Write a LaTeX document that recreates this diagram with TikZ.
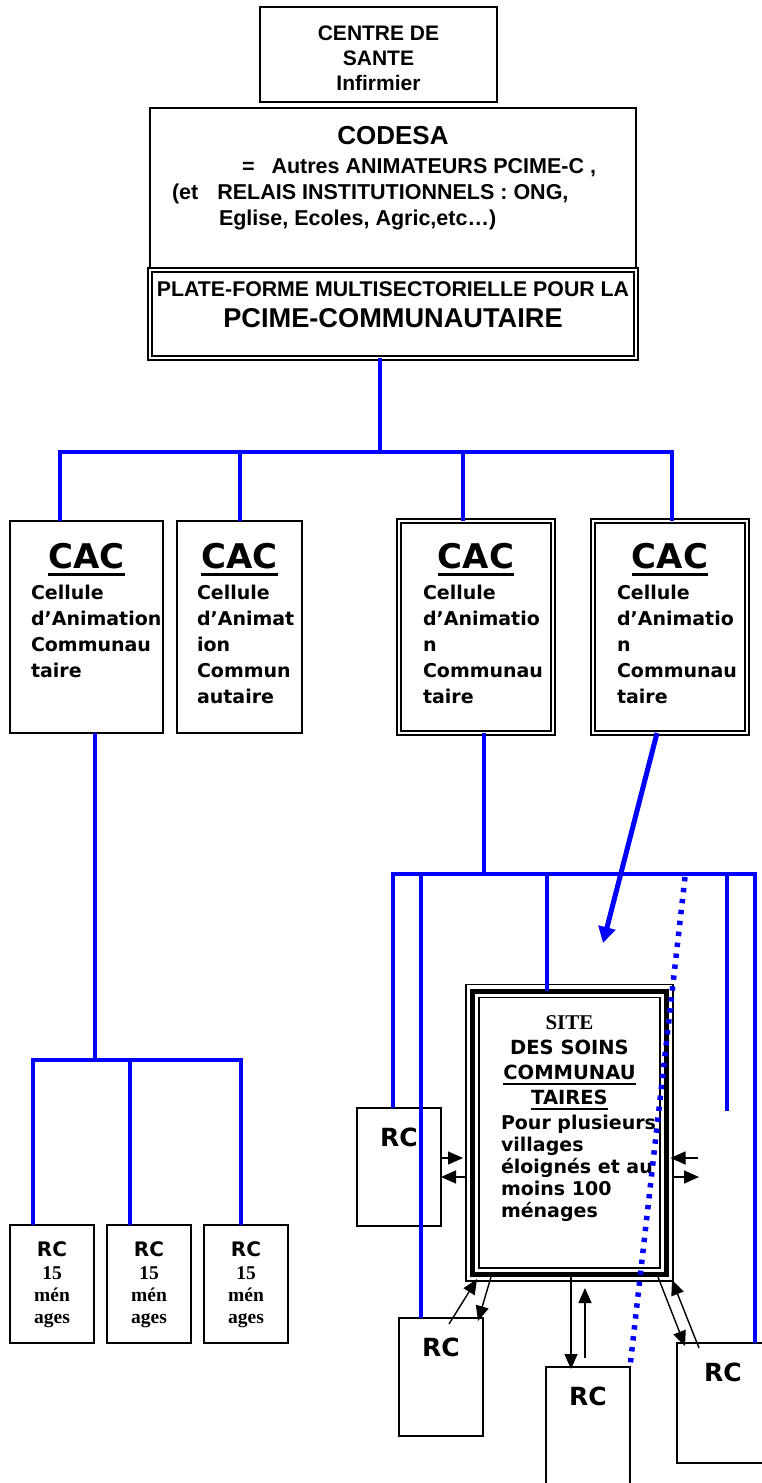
\documentclass[tikz,border=0pt]{standalone}
\usepackage{fontspec}
\setmainfont{DejaVu Sans}
\newfontfamily\arialfont{Liberation Sans}
\newfontfamily\timesfont{Liberation Serif}
\usetikzlibrary{arrows.meta,calc}

\newcommand{\inbox}[4]{\parbox[c][#2][t]{#1}{\vspace*{#3}#4}}
\newcommand{\ulbar}[3]{\leavevmode\setbox0\hbox{#3}\rlap{\rule[-#1]{\wd0}{#2}}\box0}
\newcommand{\cactext}[2]{{\centering\fontsize{34}{40}\selectfont\bfseries\strut\ulbar{7.5pt}{3pt}{CAC}\par}\vspace{3.6pt}{\leftskip=#1\fontsize{19}{26}\selectfont\bfseries #2\par}}
\newcommand{\rcmen}{\centering{\fontsize{20}{24}\selectfont\bfseries\strut RC\par}\timesfont\bfseries\fontsize{19.5}{22}\selectfont\vspace{1pt}15\\ mén\\ ages\par}
\newcommand{\rcbig}{\centering\fontsize{25}{30}\selectfont\bfseries\strut RC\par}

\begin{document}
\begin{tikzpicture}[x=1pt,y=-1pt,
  plainbox/.style={draw,line width=1.8pt,inner sep=0pt,outer sep=0pt},
  dblbox/.style={draw,line width=1.6pt,double,double distance=2.4pt,inner sep=0pt,outer sep=0pt},
  sitebox/.style={draw,line width=1.5pt,double,double distance=11.5pt,inner sep=0pt,outer sep=0pt},
  bluelink/.style={draw=blue,line width=4pt},
  arr/.style={line width=1.4pt,-{Triangle[length=15pt,width=13pt]}}]
 \useasboundingbox (0,0) rectangle (762,1483);

 \draw (378.5,54.5) node[plainbox] (sante) {\inbox{237pt}{95pt}{15.5pt}{\centering\arialfont\bfseries\fontsize{21}{25}\selectfont\strut CENTRE DE\\ SANTE\\ Infirmier\par}};
 \draw (393,188) node[plainbox] (codesa) {\inbox{486pt}{160pt}{16pt}{\arialfont\bfseries
   {\centering\fontsize{26}{29}\selectfont\strut CODESA\par}
   \fontsize{21.5}{26}\selectfont\vspace{2.7pt}
   \hspace*{92pt}=\hspace{17pt}Autres ANIMATEURS PCIME-C ,\par
   \hspace*{22pt}(et\hspace{19pt}RELAIS INSTITUTIONNELS : ONG,\par
   \hspace*{69pt}Eglise, Ecoles, Agric,etc…)\par}};
 \draw (393,314) node[dblbox] (plate) {\inbox{486pt}{88pt}{8.5pt}{\centering\arialfont\bfseries
   \fontsize{21.3}{25}\selectfont\strut PLATE-FORME MULTISECTORIELLE POUR LA\par
   \fontsize{27.2}{31.7}\selectfont PCIME-COMMUNAUTAIRE\par}};

 \draw (86.5,627) node[plainbox] (cac1) {\inbox{153pt}{212pt}{19.4pt}{\cactext{21pt}{Cellule\\ d’Animation\\ Communau\\ taire}}};
 \draw (239.5,627) node[plainbox] (cac2) {\inbox{125pt}{212pt}{19.4pt}{\cactext{20pt}{Cellule\\ d’Animat\\ ion\\ Commun\\ autaire}}};
 \draw (476,627) node[dblbox] (cac3) {\inbox{154pt}{212pt}{19.4pt}{\cactext{24pt}{Cellule\\ d’Animatio\\ n\\ Communau\\ taire}}};
 \draw (670,627) node[dblbox] (cac4) {\inbox{154pt}{212pt}{19.4pt}{\cactext{24pt}{Cellule\\ d’Animatio\\ n\\ Communau\\ taire}}};

 \draw (52,1284) node[plainbox] (rc1) {\inbox{84pt}{118pt}{14.5pt}{\rcmen}};
 \draw (149,1284) node[plainbox] (rc2) {\inbox{84pt}{118pt}{14.5pt}{\rcmen}};
 \draw (246,1284) node[plainbox] (rc3) {\inbox{84pt}{118pt}{14.5pt}{\rcmen}};

 \draw (569.5,1132.75) node[sitebox] (site) {\inbox{194pt}{283.5pt}{20.5pt}{\centering
   {\timesfont\bfseries\fontsize{21}{25}\selectfont\strut SITE\par}
   \bfseries\fontsize{19.5}{25}\selectfont DES SOINS\\ \ulbar{5.5pt}{2pt}{COMMUNAU}\\ \ulbar{5.5pt}{2pt}{TAIRES}\par
   \vspace{3pt}
   {\raggedright\leftskip=28.5pt\fontsize{19}{22}\selectfont Pour plusieurs\\ villages\\ éloignés et au\\ moins 100\\ ménages\par}}};
 \draw[line width=5pt] (site.north west) rectangle (site.south east);

 \draw (399,1167) node[plainbox] (rcA) {\inbox{84pt}{118pt}{17pt}{\rcbig}};
 \draw (441,1377) node[plainbox] (rcB) {\inbox{84pt}{118pt}{17pt}{\rcbig}};
 \draw (588,1426) node[plainbox] (rcC) {\inbox{84pt}{118pt}{17pt}{\rcbig}};
 \draw (723,1403) node[plainbox] (rcD) {\inbox{92pt}{120pt}{17pt}{\rcbig}};

 \coordinate (hub) at (380,452);
 \coordinate (busL) at (60,452);
 \coordinate (busA) at (240,452);
 \coordinate (busB) at (463,452);
 \coordinate (busR) at (672,452);
 \coordinate (legT) at (95,1060);
 \coordinate (legL) at (33,1060);
 \coordinate (legM) at (130,1060);
 \coordinate (legR) at (241,1060);
 \coordinate (rbT) at (484,874);
 \coordinate (rbL) at (393,874);
 \coordinate (rbB) at (421,874);
 \coordinate (rbS) at (547,874);
 \coordinate (rbF) at (727,874);
 \coordinate (rbR) at (755,874);
 \coordinate (rbEnd) at (727,1111);
 \coordinate (tip) at (603,943);
 \coordinate (dotS) at (685,877);

 \draw[bluelink] (hub |- plate.south) -- (hub);
 \draw[bluelink] (busL |- cac1.north) -- (busL) -- (busR) -- (busR |- cac4.north);
 \draw[bluelink] (busA) -- (busA |- cac2.north);
 \draw[bluelink] (busB) -- (busB |- cac3.north);

 \draw[bluelink] (legT |- cac1.south) -- (legT);
 \draw[bluelink] (legL |- rc1.north) -- (legL) -- (legR) -- (legR |- rc3.north);
 \draw[bluelink] (legM) -- (legM |- rc2.north);

 \draw[bluelink] (rbT |- cac3.south) -- (rbT);
 \draw[bluelink] (rbL |- rcA.north) -- (rbL) -- (rbR) -- (rbR |- rcD.north);
 \draw[bluelink] (rbB) -- (rbB |- rcB.north);
 \draw[bluelink] (rbS) -- (rbS |- site.north);
 \draw[bluelink] (rbF) -- (rbEnd);

 \draw[bluelink,line width=5pt,-{Triangle[length=16pt,width=17pt]}] ([xshift=-13pt]cac4.south) -- (tip);
 \draw[draw=blue,line width=5.5pt,dash pattern=on 4.4pt off 6.6pt] (dotS) -- (rcC.north east);

 \draw[arr] ($(rcA.east)+(0,-9)$) -- ($(site.west)+(-9.5,25.25)$);
 \draw[arr] ($(site.west)+(-6.5,44.25)$) -- ($(rcA.east)+(0,10)$);
 \draw[arr] ($(site.east)+(31.5,25.25)$) -- ($(site.east)+(4,25.25)$);
 \draw[arr] ($(site.east)+(6.5,44.25)$) -- ($(site.east)+(32.5,44.25)$);
 \draw[arr] ($(rcB.north)+(8,6)$) -- ($(site.south west)+(4.5,4.5)$);
 \draw[arr] ($(site.south west)+(18.5,2.5)$) -- ($(rcB.north)+(37,3)$);
 \draw[arr] ($(site.south)+(1.5,2.5)$) -- ($(rcC.north)+(-17,2)$);
 \draw[arr] ($(rcC.north)+(-3,-9)$) -- ($(site.south)+(15.5,13.5)$);
 \draw[arr] ($(site.south east)+(-8.5,2.5)$) -- ($(rcD.north west)+(8,3)$);
 \draw[arr] ($(rcD.north west)+(22,5)$) -- ($(site.south east)+(5.5,5.5)$);
\end{tikzpicture}
\end{document}
